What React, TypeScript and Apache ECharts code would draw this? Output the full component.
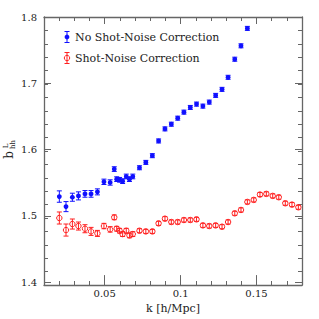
import React, { useEffect, useRef } from "react";
import * as echarts from "echarts";

const kValues = [
  0.0201, 0.0245, 0.0287, 0.0327, 0.037, 0.041, 0.0452, 0.0495, 0.0536, 0.0563,
  0.0579, 0.0598, 0.0618, 0.0642, 0.0663, 0.0685, 0.0729, 0.0771, 0.0814, 0.0855,
  0.0897, 0.0939, 0.0981, 0.1022, 0.1064, 0.1105, 0.1147, 0.1189, 0.1231, 0.1273,
  0.1313, 0.1357, 0.1398, 0.144, 0.1482, 0.1523, 0.1565, 0.1607, 0.1647, 0.169,
  0.1734, 0.1776,
];

const noCorrValues = [
  1.532, 1.517, 1.531, 1.533, 1.536, 1.536, 1.539, 1.554, 1.553, 1.573,
  1.558, 1.557, 1.555, 1.562, 1.558, 1.562, 1.575, 1.583, 1.593, 1.615,
  1.633, 1.64, 1.649, 1.658, 1.665, 1.67, 1.667, 1.673, 1.683, 1.692,
  1.71, 1.737, 1.757, 1.783,
];
const noCorrErrors = [
  0.0085, 0.0075, 0.006, 0.006, 0.005, 0.005, 0.0045, 0.004, 0.004, 0.0035,
  0.0035, 0.0035, 0.0035, 0.0035, 0.0035, 0.0035, 0.003, 0.003, 0.003, 0.003,
  0.003, 0.003, 0.003, 0.003, 0.003, 0.003, 0.003, 0.003, 0.003, 0.003,
  0.003, 0.003, 0.003, 0.003,
];

const corrValues = [
  1.5, 1.482, 1.491, 1.488, 1.484, 1.48, 1.477, 1.488, 1.483, 1.501,
  1.484, 1.481, 1.476, 1.481, 1.474, 1.476, 1.481, 1.48, 1.48, 1.492,
  1.499, 1.494, 1.494, 1.497, 1.497, 1.498, 1.489, 1.488, 1.489, 1.487,
  1.494, 1.507, 1.512, 1.524, 1.527, 1.535, 1.536, 1.533, 1.531, 1.522,
  1.52, 1.516,
];
const corrErrors = [
  0.009, 0.009, 0.0075, 0.006, 0.006, 0.006, 0.0045, 0.004, 0.004, 0.0035,
  0.0035, 0.0035, 0.0035, 0.0035, 0.0035, 0.0035, 0.003, 0.003, 0.003, 0.003,
  0.003, 0.003, 0.003, 0.003, 0.003, 0.003, 0.003, 0.003, 0.003, 0.003,
  0.003, 0.003, 0.003, 0.003, 0.003, 0.003, 0.003, 0.003, 0.003, 0.003,
  0.003, 0.003,
];

const xMajorTicks = [0.05, 0.1, 0.15];
const seriesNames = ["No Shot-Noise Correction", "Shot-Noise Correction"];
const xTitle = "k [h/Mpc]";

const BLUE = "#1010ff";
const RED = "#ff2020";
const AXIS = "#666";
const TEXT = "#222";
const FONT = "DejaVu Serif";

function makeRender(kind: "blue" | "red") {
  return (params: any, api: any) => {
    const x = api.value(0);
    const y = api.value(1);
    const e = api.value(2);
    const c = api.coord([x, y]);
    const top = api.coord([x, y + e]);
    const bot = api.coord([x, y - e]);
    const color = kind === "blue" ? BLUE : RED;
    const cap = 2.5;
    const ls = { stroke: color, lineWidth: 1 };
    const children: any[] = [
      { type: "line", shape: { x1: c[0], y1: top[1], x2: c[0], y2: bot[1] }, style: ls },
      { type: "line", shape: { x1: c[0] - cap, y1: top[1], x2: c[0] + cap, y2: top[1] }, style: ls },
      { type: "line", shape: { x1: c[0] - cap, y1: bot[1], x2: c[0] + cap, y2: bot[1] }, style: ls },
    ];
    if (kind === "blue") {
      children.push({ type: "circle", shape: { cx: c[0], cy: c[1], r: 2.4 }, style: { fill: color } });
    } else {
      children.push({
        type: "circle",
        shape: { cx: c[0], cy: c[1], r: 2.7 },
        style: { fill: "none", stroke: color, lineWidth: 1 },
      });
    }
    return { type: "group", children };
  };
}

function legendMarker(kind: "blue" | "red", x: number, y: number): any {
  const color = kind === "blue" ? BLUE : RED;
  const ls = { stroke: color, lineWidth: 1 };
  const children: any[] = [
    { type: "line", shape: { x1: x, y1: y - 5.5, x2: x, y2: y + 5.5 }, style: ls },
    { type: "line", shape: { x1: x - 2.5, y1: y - 5.5, x2: x + 2.5, y2: y - 5.5 }, style: ls },
    { type: "line", shape: { x1: x - 2.5, y1: y + 5.5, x2: x + 2.5, y2: y + 5.5 }, style: ls },
  ];
  if (kind === "blue") children.push({ type: "circle", shape: { cx: x, cy: y, r: 2.4 }, style: { fill: color } });
  else children.push({ type: "circle", shape: { cx: x, cy: y, r: 2.7 }, style: { fill: "none", stroke: color, lineWidth: 1 } });
  return { type: "group", children };
}

export default function App() {
  const ref = useRef<HTMLDivElement>(null);
  useEffect(() => {
    if (!ref.current) return;
    const chart = echarts.init(ref.current, undefined, { renderer: "svg" });
    const gridRect = { left: 44, right: 17, top: 17, bottom: 34 };
    const axisLine = { show: true, lineStyle: { color: AXIS, width: 1.3 } };
    const minorX = (pos: string, gridIndex: number) => ({
      type: "value", gridIndex, position: pos, min: 0.01, max: 0.18, interval: 0.01,
      axisLine, splitLine: { show: false },
      axisTick: { show: true, inside: true, length: 4, lineStyle: { color: AXIS, width: 1 } },
      axisLabel: { show: false },
    });
    const majorX = (pos: string, gridIndex: number, labels: boolean) => ({
      type: "value", gridIndex, position: pos, min: 0.01, max: 0.18,
      axisLine: { show: false }, splitLine: { show: false },
      axisTick: { show: true, inside: true, length: 7, customValues: xMajorTicks, lineStyle: { color: AXIS, width: 1 } },
      axisLabel: {
        show: labels, customValues: xMajorTicks, margin: 6, color: TEXT, fontFamily: FONT, fontSize: 10,
      },
      ...(labels
        ? {
            name: xTitle, nameLocation: "middle", nameGap: 18,
            nameTextStyle: { color: TEXT, fontFamily: FONT, fontSize: 11 },
          }
        : {}),
    });
    const minorY = (pos: string, gridIndex: number) => ({
      type: "value", gridIndex, position: pos, min: 1.4, max: 1.8, interval: 0.02,
      axisLine, splitLine: { show: false },
      axisTick: { show: true, inside: true, length: 4, lineStyle: { color: AXIS, width: 1 } },
      axisLabel: { show: false },
    });
    const majorY = (pos: string, gridIndex: number, labels: boolean) => ({
      type: "value", gridIndex, position: pos, min: 1.4, max: 1.8, interval: 0.1,
      axisLine: { show: false }, splitLine: { show: false },
      axisTick: { show: true, inside: true, length: 7, lineStyle: { color: AXIS, width: 1 } },
      axisLabel: {
        show: labels, margin: 7, color: TEXT, fontFamily: FONT, fontSize: 10,
        formatter: (v: number) => v.toFixed(1),
      },
    });

    const blueData = noCorrValues.map((v, i) => [kValues[i], v, noCorrErrors[i]]);
    const redData = corrValues.map((v, i) => [kValues[i], v, corrErrors[i]]);

    const rot = Math.PI / 2;
    chart.setOption({
      animation: false,
      grid: [
        { ...gridRect },
        { ...gridRect },
      ],
      xAxis: [minorX("bottom", 0), minorX("top", 0), majorX("bottom", 1, true), majorX("top", 1, false)],
      yAxis: [minorY("left", 0), minorY("right", 0), majorY("left", 1, true), majorY("right", 1, false)],
      series: [
        {
          type: "custom", name: seriesNames[0], xAxisIndex: 0, yAxisIndex: 0,
          renderItem: makeRender("blue"), data: blueData, encode: { x: 0, y: 1 },
        },
        {
          type: "custom", name: seriesNames[1], xAxisIndex: 0, yAxisIndex: 0,
          renderItem: makeRender("red"), data: redData, encode: { x: 0, y: 1 },
        },
      ],
      graphic: [
        legendMarker("blue", 67, 37),
        legendMarker("red", 67, 58),
        {
          type: "text", x: 75, y: 37,
          style: { text: seriesNames[0], fill: TEXT, fontFamily: FONT, fontSize: 11, align: "left", verticalAlign: "middle" },
        },
        {
          type: "text", x: 75, y: 58,
          style: { text: seriesNames[1], fill: TEXT, fontFamily: FONT, fontSize: 11, align: "left", verticalAlign: "middle" },
        },
        {
          type: "text", x: 9, y: 155, rotation: rot,
          style: { text: "b", fill: TEXT, fontFamily: FONT, fontSize: 12, align: "center", verticalAlign: "middle" },
        },
        {
          type: "text", x: 5.5, y: 146, rotation: rot,
          style: { text: "L", fill: TEXT, fontFamily: FONT, fontSize: 7, align: "center", verticalAlign: "middle" },
        },
        {
          type: "text", x: 13, y: 144.5, rotation: rot,
          style: { text: "hh", fill: TEXT, fontFamily: FONT, fontSize: 7, align: "center", verticalAlign: "middle" },
        },
      ],
    });
    return () => chart.dispose();
  }, []);
  return <div ref={ref} style={{ width: 319, height: 319, position: "absolute", left: 0, top: 0 }} />;
}
